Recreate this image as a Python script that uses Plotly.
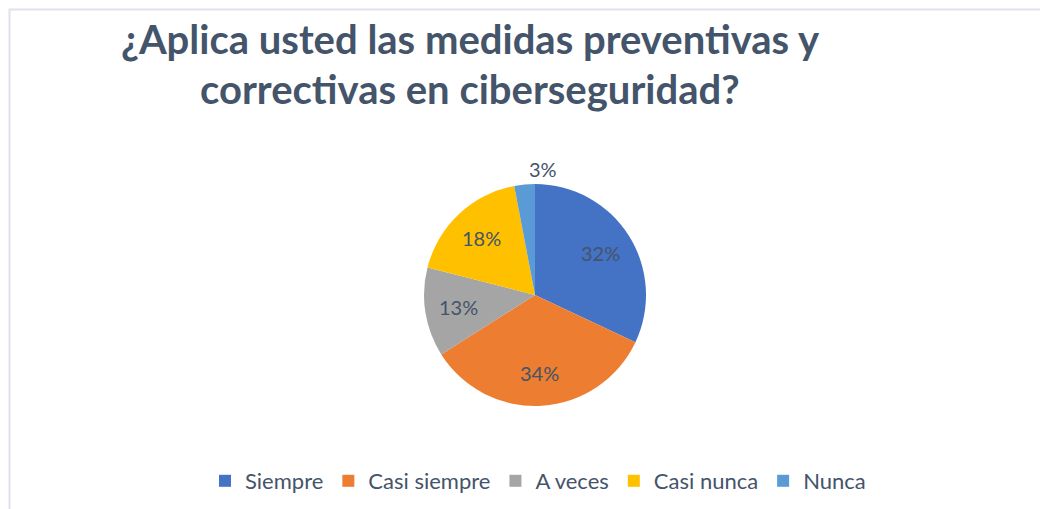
import math
import plotly.graph_objects as go

categories = ["Siempre", "Casi siempre", "A veces", "Casi nunca", "Nunca"]
values = [32, 34, 13, 18, 3]
colors = ["#4472C4", "#ED7D31", "#A5A5A5", "#FFC000", "#5B9BD5"]
title_lines = ["¿Aplica usted las medidas preventivas y", "correctivas en ciberseguridad?"]

W, H = 1048, 509
OFF = 8  # browser body margin: page coords -> figure coords
cx, cy, r = 535 - OFF, 295 - OFF, 111
TEXT = "#44546A"

fig = go.Figure(go.Pie(
    labels=categories,
    values=values,
    sort=False,
    direction="clockwise",
    rotation=0,
    marker=dict(colors=colors, line=dict(width=0)),
    textinfo="none",
    domain=dict(x=[(cx - r) / W, (cx + r) / W], y=[(H - cy - r) / H, (H - cy + r) / H]),
    hoverinfo="label+percent",
))

# percentage labels placed from the data (mid-angle of each slice)
total = sum(values)
cum = 0
for v in values:
    mid = (cum + v / 2) / total * 2 * math.pi
    cum += v
    pct = f"{round(v / total * 100)}%"
    if v / total >= 0.05:
        d, anchor = 0.7 * r, "center"
    else:
        d, anchor = 1.14 * r, "left"
    px = cx + d * math.sin(mid) + (4 if anchor == "left" else 0)
    py = cy - d * math.cos(mid)
    fig.add_annotation(
        text=pct, x=px / W, y=1 - py / H, xref="paper", yref="paper",
        xanchor=anchor, yanchor="middle", showarrow=False,
        font=dict(family="Lato", size=20, color=TEXT),
    )

title_y = [39 - OFF, 89 - OFF]
for line, ty in zip(title_lines, title_y):
    fig.add_annotation(
        text=f"<b>{line}</b>", x=(470 - OFF) / W, y=1 - ty / H, xref="paper", yref="paper",
        xanchor="center", yanchor="middle", showarrow=False,
        font=dict(family="Lato", size=40, color=TEXT),
    )

fig.add_shape(type="rect", xref="paper", yref="paper",
              x0=1.5 / W, x1=1.02, y0=-0.02, y1=1 - 1.5 / H,
              line=dict(color="#DEE2EB", width=2), fillcolor="rgba(0,0,0,0)")

fig.update_layout(
    width=W, height=H,
    margin=dict(l=0, r=0, t=0, b=0),
    paper_bgcolor="white", plot_bgcolor="white",
    showlegend=True,
    legend=dict(orientation="h", x=(538 - OFF) / W, xanchor="center",
                y=1 - (481 - OFF) / H, yanchor="middle",
                font=dict(family="Lato", size=22, color=TEXT), traceorder="normal"),
)

fig.write_html("out.html")
